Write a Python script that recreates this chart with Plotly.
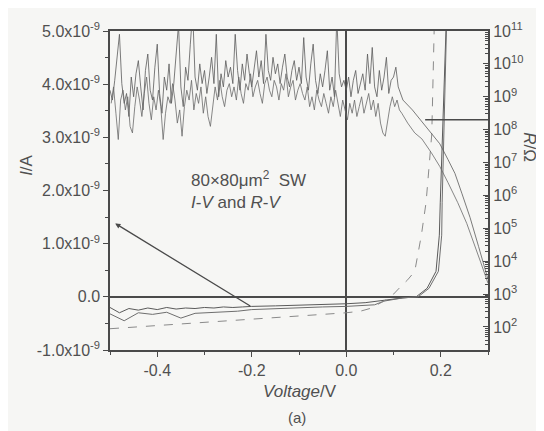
import plotly.graph_objects as go

# ---------------- data ----------------
# R-V sweep 1: log10(R/Ohm) at V = -0.500 .. 0.120 (step 0.005), then the descending tail
rv1_v_noisy = [round(-0.500 + 0.005 * i, 4) for i in range(125)]
rv1_logr_noisy = [
    9.2, 8.9, 9.5, 10.2, 10.9, 9.4, 8.8, 9.1, 8.4, 9.6,
    9.0, 9.7, 10.1, 9.3, 8.6, 9.8, 10.3, 9.2, 8.9, 9.9,
    10.6, 9.1, 8.5, 9.6, 9.2, 10.0, 8.8, 9.4, 10.4, 11.2,
    9.3, 8.7, 9.9, 9.5, 10.6, 11.6, 9.6, 9.2, 10.0, 9.4,
    9.8, 9.1, 9.6, 10.2, 9.4, 10.9, 9.0, 9.7, 9.3, 10.1,
    9.6, 9.9, 9.4, 10.9, 9.8, 9.2, 10.0, 9.5, 10.3, 9.7,
    9.3, 9.9, 10.4, 9.6, 10.1, 9.4, 10.9, 9.8, 9.5, 10.2,
    9.7, 10.0, 9.4, 9.9, 10.3, 9.6, 9.3, 9.8, 10.1, 9.5,
    9.9, 9.4, 10.8, 9.6, 9.2, 10.0, 10.6, 9.5, 9.1, 9.7,
    9.3, 9.8, 10.4, 9.2, 9.6, 9.0, 11.4, 9.7, 9.3, 9.5,
    9.2, 9.6, 9.0, 9.5, 9.8, 9.1, 9.4, 9.7, 9.2, 10.3,
    9.4, 10.5, 9.3, 9.0, 9.8, 9.2, 9.6, 10.2, 9.1, 9.5,
    9.6, 9.9, 9.3, 9.1, 8.9]
rv1_v_tail = [0.14, 0.16, 0.18, 0.198, 0.215, 0.23, 0.245, 0.262, 0.28, 0.30]
rv1_logr_tail = [8.6, 8.25, 7.9, 7.57, 7.1, 6.67, 6.05, 5.33, 4.45, 3.45]

# R-V sweep 2: V = -0.4975 .. 0.1175 (step 0.005), then the descending tail
rv2_v_noisy = [round(-0.4975 + 0.005 * i, 4) for i in range(124)]
rv2_logr_noisy = [
    8.8, 9.3, 8.5, 7.7, 8.9, 9.2, 8.6, 9.0, 8.1, 7.9,
    8.7, 9.3, 8.9, 8.4, 9.1, 9.6, 8.8, 8.3, 9.0, 8.6,
    9.2, 8.7, 7.7, 8.5, 9.0, 8.8, 9.4, 8.9, 8.2, 8.6,
    7.8, 8.7, 9.2, 8.9, 9.5, 8.6, 9.1, 8.8, 9.3, 8.5,
    9.0, 8.4, 8.1, 8.8, 9.3, 8.9, 9.5, 9.0, 8.7, 9.2,
    9.4, 9.0, 9.3, 8.9, 9.6, 9.1, 8.8, 9.4, 9.2, 9.7,
    9.0, 9.3, 9.5, 9.1, 8.8, 9.4, 9.6, 9.2, 9.0, 9.5,
    9.3, 8.9, 9.4, 9.2, 9.7, 9.0, 9.3, 9.5, 8.9, 9.2,
    9.4, 9.1, 8.9, 9.3, 8.7, 9.0, 8.6, 9.2, 8.9, 8.7,
    9.1, 8.8, 8.5, 9.0, 8.7, 9.2, 8.8, 8.4, 8.9, 8.6,
    8.3, 8.8, 8.5, 8.9, 8.4, 8.7, 9.0, 8.5, 8.8, 9.1,
    8.6, 8.9, 8.4, 8.8, 8.2, 7.9, 7.8, 8.3, 8.7, 9.0,
    8.7, 8.9, 8.6, 8.5]
rv2_v_tail = [0.13, 0.145, 0.16, 0.18, 0.198, 0.215, 0.236, 0.255, 0.27, 0.285, 0.30]
rv2_logr_tail = [8.2, 7.9, 7.72, 7.3, 6.88, 6.4, 5.78, 5.15, 4.58, 3.95, 3.33]

# I-V curves (current in nA)
iv_a_v = [-0.5, -0.48, -0.46, -0.44, -0.42, -0.40, -0.38, -0.36, -0.34, -0.32, -0.30,
          -0.28, -0.26, -0.24, -0.22, -0.20, -0.15, -0.10, -0.05, 0.0, 0.04, 0.08,
          0.10, 0.12, 0.148, 0.171, 0.19, 0.197, 0.199, 0.204, 0.211, 0.215]
iv_a_i = [-0.20, -0.30, -0.22, -0.25, -0.21, -0.24, -0.20, -0.23, -0.21, -0.22, -0.20,
          -0.21, -0.19, -0.20, -0.19, -0.18, -0.17, -0.16, -0.15, -0.13, -0.11, -0.06,
          -0.04, -0.02, 0.0, 0.16, 0.48, 1.16, 1.78, 3.06, 5.0, 6.5]

iv_b_v = [-0.5, -0.47, -0.44, -0.41, -0.38, -0.35, -0.32, -0.29, -0.26, -0.23, -0.20,
          -0.15, -0.10, -0.05, 0.0, 0.03, 0.06, 0.08, 0.10, 0.12, 0.152, 0.175, 0.195,
          0.202, 0.203, 0.206, 0.212, 0.216]
iv_b_i = [-0.32, -0.45, -0.30, -0.33, -0.29, -0.40, -0.31, -0.30, -0.28, -0.27, -0.24,
          -0.22, -0.21, -0.19, -0.18, -0.17, -0.15, -0.08, -0.05, -0.02, 0.0, 0.16, 0.48,
          1.16, 1.78, 3.06, 5.0, 6.5]

iv_c_v = [-0.5, -0.45, -0.4, -0.35, -0.3, -0.25, -0.2, -0.15, -0.1, -0.05, 0.0, 0.03,
          0.05, 0.08, 0.10, 0.116, 0.13, 0.145, 0.159, 0.169, 0.176, 0.181, 0.186, 0.19]
iv_c_i = [-0.60, -0.57, -0.54, -0.52, -0.49, -0.46, -0.42, -0.39, -0.36, -0.33, -0.30,
          -0.27, -0.22, -0.08, 0.05, 0.2, 0.32, 0.48, 1.16, 1.78, 2.5, 3.06, 5.0, 6.0]

# reference segment on the right (R axis)
ref_v = [0.167, 0.30]
ref_r = [2.0e8, 2.0e8]

# arrow from the label towards the I-V curves (V, I in nA)
arrow_head = (-0.489, 1.38)
arrow_tail = (-0.20, -0.19)

left_tick_vals_na = [-1, 0, 1, 2, 3, 4, 5]
left_tick_text = ["-1.0x10<sup>-9</sup>", "0.0", "1.0x10<sup>-9</sup>", "2.0x10<sup>-9</sup>",
                  "3.0x10<sup>-9</sup>", "4.0x10<sup>-9</sup>", "5.0x10<sup>-9</sup>"]
right_exponents = list(range(2, 12))
x_tick_vals = [-0.4, -0.2, 0.0, 0.2]
x_tick_text = ["-0.4", "-0.2", "0.0", "0.2"]

# ---------------- figure ----------------
NA = 1e-9
bg = "#f6f6f4"
axc = "#4a4a4a"
txt = "#505050"
font = "Arial, Liberation Sans, sans-serif"

fig = go.Figure()

fig.add_trace(go.Scatter(x=rv1_v_noisy + rv1_v_tail,
                         y=[10 ** v for v in rv1_logr_noisy + rv1_logr_tail],
                         mode="lines", line=dict(color="#5a5a5a", width=0.8),
                         yaxis="y2", showlegend=False))
fig.add_trace(go.Scatter(x=rv2_v_noisy + rv2_v_tail,
                         y=[10 ** v for v in rv2_logr_noisy + rv2_logr_tail],
                         mode="lines", line=dict(color="#6a6a6a", width=0.8),
                         yaxis="y2", showlegend=False))
fig.add_trace(go.Scatter(x=ref_v, y=ref_r, mode="lines", line=dict(color=axc, width=1.3),
                         yaxis="y2", showlegend=False))

fig.add_trace(go.Scatter(x=iv_a_v, y=[v * NA for v in iv_a_i], mode="lines",
                         line=dict(color="#5a5a5a", width=1), showlegend=False))
fig.add_trace(go.Scatter(x=iv_b_v, y=[v * NA for v in iv_b_i], mode="lines",
                         line=dict(color="#6e6e6e", width=1), showlegend=False))
fig.add_trace(go.Scatter(x=iv_c_v, y=[v * NA for v in iv_c_i], mode="lines",
                         line=dict(color="#8a8a8a", width=1, dash="dash"), showlegend=False))

fig.add_annotation(x=arrow_head[0], y=arrow_head[1] * NA, ax=arrow_tail[0], ay=arrow_tail[1] * NA,
                   xref="x", yref="y", axref="x", ayref="y", showarrow=True,
                   arrowhead=2, arrowsize=0.8, arrowwidth=1.3, arrowcolor=axc, text="")

fig.add_annotation(x=-0.333, y=2.22 * NA, xref="x", yref="y", xanchor="left", yanchor="middle",
                   text="80×80μm<sup>2</sup>  SW", showarrow=False,
                   font=dict(family=font, size=17, color=txt))
fig.add_annotation(x=-0.333, y=1.78 * NA, xref="x", yref="y", xanchor="left", yanchor="middle",
                   text="<i>I</i>-<i>V</i> and <i>R</i>-<i>V</i>", showarrow=False,
                   font=dict(family=font, size=17, color=txt))

fig.add_annotation(x=-0.252, y=0.578, xref="paper", yref="paper", text="<i>I</i>/A",
                   textangle=-90, showarrow=False, font=dict(family=font, size=17, color=txt))
fig.add_annotation(x=1.14, y=0.634, xref="paper", yref="paper", text="<i>R</i>/Ω",
                   textangle=90, showarrow=False, font=dict(family=font, size=17, color=txt))
fig.add_annotation(x=0.503, y=-0.166, xref="paper", yref="paper", text="<i>Voltage</i>/V",
                   showarrow=False, font=dict(family=font, size=17, color=txt))
fig.add_annotation(x=0.495, y=-0.243, xref="paper", yref="paper", text="(a)",
                   showarrow=False, font=dict(family=font, size=15, color=txt))

# the page body has an 8 px margin, so the figure is placed 8 px right and down
fig.update_layout(
    width=544, height=431,
    margin=dict(l=102, r=64, t=17, b=89),
    paper_bgcolor=bg, plot_bgcolor=bg,
    font=dict(family=font, size=16, color=txt),
    xaxis=dict(range=[-0.5, 0.3], tickmode="array", tickvals=x_tick_vals, ticktext=x_tick_text,
               showgrid=False, zeroline=True, zerolinecolor=axc, zerolinewidth=1.5,
               showline=True, linecolor=axc, linewidth=1.5, mirror=True,
               ticks="outside", ticklen=5, tickcolor=axc,
               minor=dict(tickmode="array", tickvals=[-0.5, -0.3, -0.1, 0.1, 0.3],
                          ticks="outside", ticklen=3, tickcolor=axc)),
    yaxis=dict(range=[-1e-9, 5e-9], tickmode="array",
               tickvals=[v * NA for v in left_tick_vals_na], ticktext=left_tick_text,
               showgrid=False, zeroline=True, zerolinecolor=axc, zerolinewidth=1.5,
               showline=True, linecolor=axc, linewidth=1.5,
               ticks="outside", ticklen=5, tickcolor=axc,
               minor=dict(tickmode="array", tickvals=[(v + 0.5) * NA for v in left_tick_vals_na[:-1]],
                          ticks="outside", ticklen=3, tickcolor=axc)),
    yaxis2=dict(type="log", range=[1.3, 11], overlaying="y", side="right",
                tickmode="array", tickvals=[10 ** e for e in right_exponents],
                ticktext=["10<sup>%d</sup>" % e for e in right_exponents],
                showgrid=False, zeroline=False, showline=True, linecolor=axc, linewidth=2,
                ticks="inside", ticklen=5, tickcolor=axc,
                minor=dict(tickmode="array",
                           tickvals=[k * 10 ** e for e in range(1, 11) for k in range(2, 10)],
                           ticks="inside", ticklen=3, tickcolor=axc)),
)

fig.write_html("out.html")
